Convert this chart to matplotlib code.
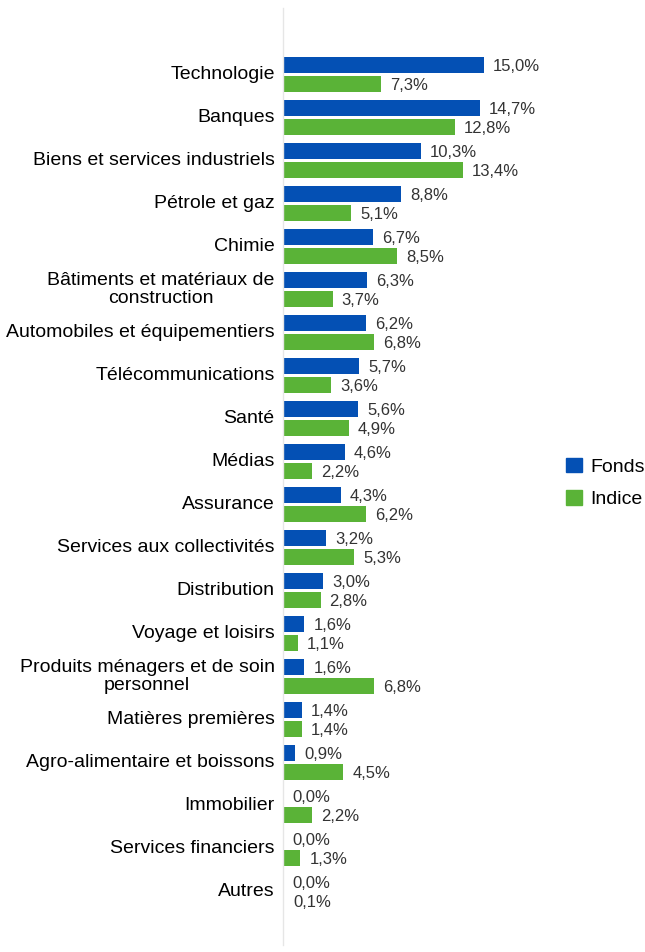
import numpy as np
import matplotlib.pyplot as plt
from matplotlib.patches import Patch

plt.rcParams['font.family'] = ['Liberation Sans', 'DejaVu Sans']

# Data
categories = ["Technologie", "Banques", "Biens et services industriels", "Pétrole et gaz",
              "Chimie", "Bâtiments et matériaux de\nconstruction", "Automobiles et équipementiers",
              "Télécommunications", "Santé", "Médias", "Assurance", "Services aux collectivités",
              "Distribution", "Voyage et loisirs", "Produits ménagers et de soin\npersonnel",
              "Matières premières", "Agro-alimentaire et boissons", "Immobilier",
              "Services financiers", "Autres"]
fonds = [15.0, 14.7, 10.3, 8.8, 6.7, 6.3, 6.2, 5.7, 5.6, 4.6, 4.3, 3.2, 3.0, 1.6, 1.6, 1.4, 0.9, 0.0, 0.0, 0.0]
indice = [7.3, 12.8, 13.4, 5.1, 8.5, 3.7, 6.8, 3.6, 4.9, 2.2, 6.2, 5.3, 2.8, 1.1, 6.8, 1.4, 4.5, 2.2, 1.3, 0.1]

blue = '#0450B4'
green = '#5AB337'

W, H = 645, 952
fig = plt.figure(figsize=(W / 100, H / 100), dpi=100)
ax_left, ax_right = 283, 520
ax_top, ax_bot = 8, 945
ax = fig.add_axes([ax_left / W, 1 - ax_bot / H, (ax_right - ax_left) / W, (ax_bot - ax_top) / H])

y = np.arange(len(categories))
h = 0.372
off = 0.221
ax.barh(y - off, fonds, height=h, color=blue)
ax.barh(y + off, indice, height=h, color=green)

xmax = (ax_right - ax_left) / 13.4
ax.set_xlim(0, xmax)
ax.set_ylim(len(categories) - 1 + 1.244, -1.547)

for yi, v in zip(y, fonds):
    ax.annotate(f"{v:.1f}%".replace('.', ','), (v, yi - off), xytext=(6.5, -1),
                textcoords='offset points', va='center', ha='left', fontsize=12, color='#333333')
for yi, v in zip(y, indice):
    ax.annotate(f"{v:.1f}%".replace('.', ','), (v, yi + off), xytext=(6.5, -1),
                textcoords='offset points', va='center', ha='left', fontsize=12, color='#333333')

ax.set_yticks(y - 0.05)
ax.set_yticklabels(categories, fontsize=14, multialignment='center', linespacing=1.08)
ax.tick_params(axis='y', length=0, pad=6)
ax.set_xticks([])
for s in ['top', 'right', 'bottom']:
    ax.spines[s].set_visible(False)
ax.spines['left'].set_color('#E6E6E6')
ax.spines['left'].set_linewidth(1)

handles = [Patch(color=blue, label='Fonds'), Patch(color=green, label='Indice')]
fig.legend(handles=handles, loc='center left', bbox_to_anchor=(566 / W, 1 - 483 / H),
           frameon=False, fontsize=14, handlelength=0.8, handleheight=0.8,
           handletextpad=0.45, labelspacing=0.75, borderpad=0, borderaxespad=0)

fig.savefig('out.png', dpi=100)
